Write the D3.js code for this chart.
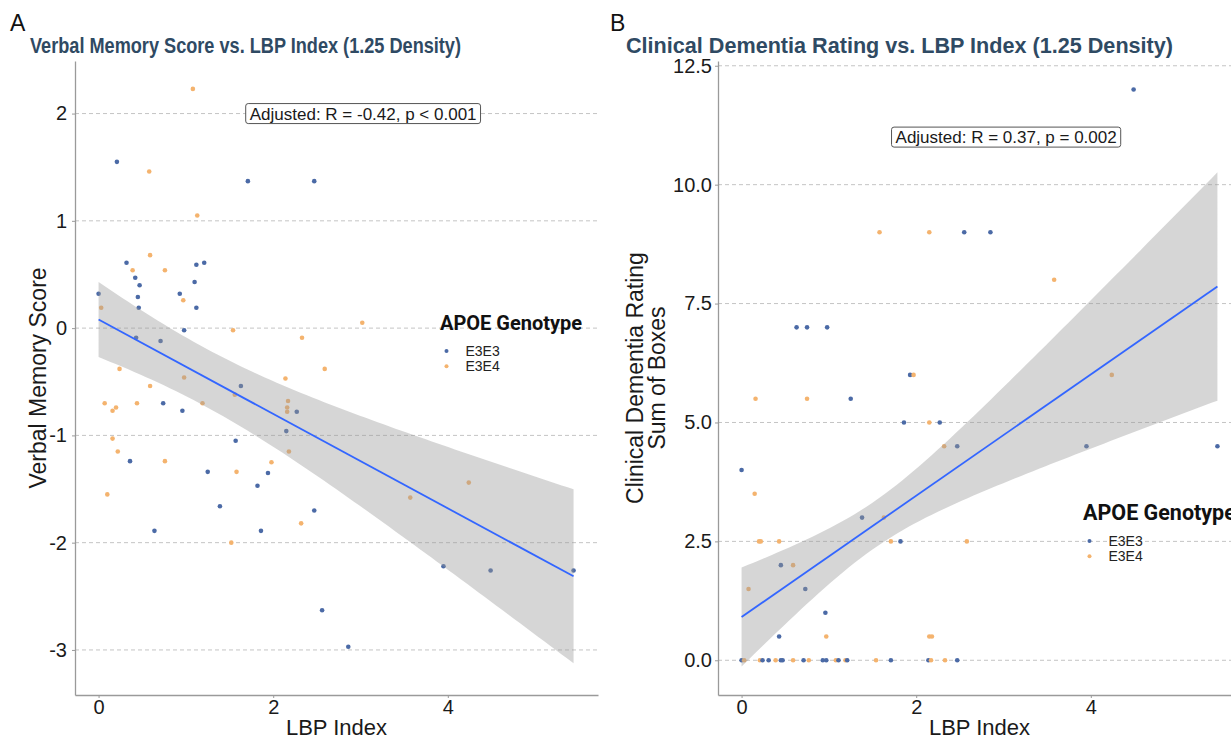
<!DOCTYPE html>
<html>
<head>
<meta charset="utf-8">
<script src="https://cdn.jsdelivr.net/npm/d3@7"></script>
<style>
  body { margin: 0; background: #fff; }
  svg text { font-family: "Liberation Sans", Arial, sans-serif; }
</style>
</head>
<body>
<svg id="chart" width="1231" height="740"></svg>
<script>
// genotype legend
var genotypes = ["E3E3", "E3E4"];
var genoColors = ["#4b6aa6", "#f4b36e"];

var xTicks = [0, 2, 4];

// panel A: verbal memory score
var vmX = [1.08, 0.21, 0.58, 1.71, 2.47, 1.13, 0.59, 0.32, 0.39, 0.76, 1.12, 1.21, 0.42, 0.47, 1.10, 0.00, 0.45, 0.93,
           0.03, 0.46, 0.97, 1.12, 0.98, 1.54, 0.43, 0.71, 2.33, 0.24, 0.98, 2.59, 2.14, 0.59, 1.63, 1.56, 2.17, 2.16,
           2.16, 2.27, 0.07, 0.16, 0.20, 0.44, 0.74, 0.96, 1.19, 2.15, 0.16, 1.57, 0.22, 2.18, 0.36, 0.76, 1.25, 1.58,
           1.98, 1.94, 1.82, 0.10, 1.39, 2.47, 2.32, 0.64, 1.86, 1.52, 2.56, 4.24, 3.57, 3.95, 4.49, 5.44, 2.86, 3.02];
var vmY = [2.23, 1.55, 1.46, 1.37, 1.37, 1.05, 0.68, 0.61, 0.54, 0.54, 0.59, 0.61, 0.47, 0.40, 0.43, 0.32, 0.29, 0.32,
           0.19, 0.19, 0.26, 0.19, -0.02, -0.02, -0.09, -0.12, -0.09, -0.38, -0.46, -0.38, -0.47, -0.54, -0.54, -0.62, -0.68, -0.74,
           -0.78, -0.78, -0.70, -0.77, -0.74, -0.70, -0.70, -0.77, -0.70, -0.96, -1.03, -1.05, -1.15, -1.15, -1.24, -1.24, -1.34, -1.34,
           -1.25, -1.35, -1.47, -1.55, -1.66, -1.70, -1.82, -1.89, -1.89, -2.00, -2.63, -1.44, -1.58, -2.22, -2.26, -2.26, -2.97, 0.05];
var vmGeno = ["E3E4", "E3E3", "E3E4", "E3E3", "E3E3", "E3E4", "E3E4", "E3E3", "E3E4", "E3E4", "E3E3", "E3E3", "E3E3", "E3E3", "E3E3", "E3E3", "E3E3", "E3E3",
              "E3E4", "E3E3", "E3E4", "E3E3", "E3E3", "E3E4", "E3E3", "E3E3", "E3E4", "E3E4", "E3E4", "E3E4", "E3E4", "E3E4", "E3E3", "E3E4", "E3E4", "E3E4",
              "E3E4", "E3E3", "E3E4", "E3E4", "E3E4", "E3E4", "E3E3", "E3E3", "E3E4", "E3E3", "E3E4", "E3E3", "E3E4", "E3E4", "E3E3", "E3E4", "E3E3", "E3E4",
              "E3E4", "E3E3", "E3E3", "E3E4", "E3E3", "E3E3", "E3E4", "E3E3", "E3E3", "E3E4", "E3E3", "E3E4", "E3E4", "E3E3", "E3E3", "E3E3", "E3E3", "E3E4"];
var vmTicksY = [-3, -2, -1, 0, 1, 2];
// smoother: line b0 + b1*x, band half width sqrt(u + k*(x - xm)^2)
var vmFit = {b0: 0.08, b1: -0.44, xm: 1.22, u: 0.0736, k: 0.0328, x0: 0, x1: 5.44};

// panel B: clinical dementia rating
var cdrX = [4.49, 1.58, 2.15, 2.55, 2.85, 3.58, 0.63, 0.75, 0.98, 1.93, 1.97, 4.24, 0.16, 0.75, 1.25, 1.86, 2.15, 2.27,
            2.32, 2.47, 3.95, 5.45, 0.00, 0.15, 1.38, 1.63, 0.20, 0.22, 0.43, 1.71, 1.82, 2.58, 0.45, 0.59, 0.08, 0.73,
            0.96, 0.43, 0.97, 2.15, 2.18, 0.00, 0.03, 0.21, 0.24, 0.31, 0.39, 0.45, 0.47, 0.59, 0.71, 0.77, 0.93, 0.97,
            1.08, 1.11, 1.19, 1.21, 1.54, 1.71, 2.14, 2.17, 2.33, 2.47];
var cdrY = [12.0, 9.0, 9.0, 9.0, 9.0, 8.0, 7.0, 7.0, 7.0, 6.0, 6.0, 6.0, 5.5, 5.5, 5.5, 5.0, 5.0, 5.0,
            4.5, 4.5, 4.5, 4.5, 4.0, 3.5, 3.0, 3.0, 2.5, 2.5, 2.5, 2.5, 2.5, 2.5, 2.0, 2.0, 1.5, 1.5,
            1.0, 0.5, 0.5, 0.5, 0.5, 0, 0, 0, 0, 0, 0, 0, 0, 0, 0, 0, 0, 0,
            0, 0, 0, 0, 0, 0, 0, 0, 0, 0];
var cdrGeno = ["E3E3", "E3E4", "E3E4", "E3E3", "E3E3", "E3E4", "E3E3", "E3E3", "E3E3", "E3E3", "E3E4", "E3E4", "E3E4", "E3E4", "E3E3", "E3E3", "E3E4", "E3E3",
               "E3E4", "E3E3", "E3E3", "E3E3", "E3E3", "E3E4", "E3E3", "E3E4", "E3E4", "E3E4", "E3E4", "E3E4", "E3E3", "E3E4", "E3E3", "E3E4", "E3E4", "E3E3",
               "E3E3", "E3E3", "E3E4", "E3E4", "E3E4", "E3E3", "E3E4", "E3E4", "E3E3", "E3E3", "E3E4", "E3E3", "E3E3", "E3E4", "E3E3", "E3E4", "E3E3", "E3E3",
               "E3E4", "E3E3", "E3E4", "E3E3", "E3E4", "E3E3", "E3E3", "E3E4", "E3E4", "E3E3"];
var cdrTicksY = [0, 2.5, 5, 7.5, 10, 12.5];
var cdrFit = {b0: 0.91, b1: 1.275, xm: 1.53, u: 0.242, k: 0.359, x0: 0, x1: 5.45};

var svg = d3.select("#chart");
var color = d3.scaleOrdinal().domain(genotypes).range(genoColors);

var fmtInt = function(d) { return String(d); };
var fmt1 = function(d) { return d.toFixed(1); };

function drawPanel(p) {
    var x = d3.scaleLinear().domain([-0.27, 5.72]).range([p.left, p.right]),
        y = d3.scaleLinear().domain(p.yDomain).range([695, 61]);

    var g = svg.append("g");

    // dashed horizontal grid
    g.selectAll(".grid").data(p.yTicks).enter().append("line")
        .attr("x1", p.left).attr("x2", p.right)
        .attr("y1", function(d) { return y(d); })
        .attr("y2", function(d) { return y(d); })
        .attr("stroke", "#c4c4c4")
        .attr("stroke-dasharray", "4,3");

    var pts = p.xs.map(function(v, i) { return {x: v, y: p.ys[i], geno: p.geno[i]}; });
    g.selectAll(".pt").data(pts).enter().append("circle")
        .attr("cx", function(d) { return x(d.x); })
        .attr("cy", function(d) { return y(d.y); })
        .attr("r", 2.3)
        .attr("fill", function(d) { return color(d.geno); });

    // smoother band + line
    var f = p.fit;
    function fy(v) { return f.b0 + f.b1 * v; }
    function hw(v) { return Math.sqrt(f.u + f.k * (v - f.xm) * (v - f.xm)); }
    var band = d3.range(0, 81).map(function(i) { return f.x0 + (f.x1 - f.x0) * i / 80; });
    g.append("path").datum(band)
        .attr("d", d3.area()
            .x(function(d) { return x(d); })
            .y0(function(d) { return y(fy(d) - hw(d)); })
            .y1(function(d) { return y(fy(d) + hw(d)); }))
        .attr("fill", "#999")
        .attr("fill-opacity", 0.4);
    g.append("line")
        .attr("x1", x(f.x0)).attr("y1", y(fy(f.x0)))
        .attr("x2", x(f.x1)).attr("y2", y(fy(f.x1)))
        .attr("stroke", "#3366ff")
        .attr("stroke-width", 1.8);

    // axes
    var ya = g.append("g").attr("transform", "translate(" + p.left + ",0)")
        .call(d3.axisLeft(y).tickValues(p.yTicks).tickFormat(p.fmt).tickSize(3).tickSizeOuter(0).tickPadding(p.yPad));
    var xa = g.append("g").attr("transform", "translate(0,695)")
        .call(d3.axisBottom(x).tickValues(xTicks).tickFormat(fmtInt).tickSize(3).tickSizeOuter(0).tickPadding(2));
    [ya, xa].forEach(function(a) {
        a.select(".domain").attr("stroke", "#9a9a9a").attr("stroke-width", 1.3);
        a.selectAll(".tick line").attr("stroke", "#9a9a9a");
        a.selectAll(".tick text").attr("fill", "#1a1a1a")
            .style("font-family", "Liberation Sans, Arial, sans-serif").style("font-size", "20px");
    });

    g.append("text")
        .attr("x", (p.left + p.right) / 2).attr("y", 735)
        .attr("text-anchor", "middle")
        .style("font-size", "22px").attr("fill", "#1a1a1a")
        .text("LBP Index");

    var yt = g.append("text")
        .attr("transform", "translate(" + p.yTitleX + ",378) rotate(-90)")
        .attr("text-anchor", "middle")
        .style("font-size", "23px").attr("fill", "#1a1a1a");
    p.yTitle.forEach(function(line, i) {
        yt.append("tspan").attr("x", 0).attr("dy", i ? 22 : 0).text(line);
    });

    // correlation label
    var lab = g.append("g").attr("transform", "translate(" + x(p.ann[0]) + "," + y(p.ann[1]) + ")");
    var lt = lab.append("text")
        .attr("text-anchor", "middle").attr("dy", "0.36em")
        .style("font-size", "17px").attr("fill", "#1a1a1a")
        .text(p.annText);
    var w = lt.node().getComputedTextLength() + 8;
    lab.insert("rect", "text")
        .attr("x", -w / 2).attr("y", -10).attr("width", w).attr("height", 20)
        .attr("rx", 2.5)
        .attr("fill", "#fff").attr("stroke", "#555").attr("stroke-width", 1);

    // titles
    svg.append("text")
        .attr("x", p.tag[1]).attr("y", 31)
        .style("font-size", "23px").attr("fill", "#111")
        .text(p.tag[0]);
    svg.append("text")
        .attr("x", p.titleX).attr("y", 53)
        .attr("textLength", p.titleW).attr("lengthAdjust", "spacingAndGlyphs")
        .style("font-size", "22px").style("font-weight", "bold")
        .attr("fill", "#2f4a63")
        .text(p.title);

    // legend
    var lg = svg.append("g").attr("transform", "translate(" + p.legend[0] + "," + p.legend[1] + ")");
    lg.append("text")
        .style("font-family", "Roboto, sans-serif").style("font-weight", "bold").style("font-size", p.legendSize + "px")
        .attr("fill", "#111")
        .text("APOE Genotype");
    genotypes.forEach(function(gt, i) {
        lg.append("circle").attr("cx", 6.5).attr("cy", 21 + i * 15.3).attr("r", 2).attr("fill", color(gt));
        lg.append("text").attr("x", 25.5).attr("y", 21 + i * 15.3).attr("dy", "0.36em")
            .style("font-size", "14px").attr("fill", "#222")
            .text(gt);
    });
}

drawPanel({
    left: 75, right: 598, yDomain: [-3.42, 2.49], yTicks: vmTicksY, fmt: fmtInt, yPad: 5,
    xs: vmX, ys: vmY, geno: vmGeno, fit: vmFit,
    yTitle: ["Verbal Memory Score"], yTitleX: 46,
    ann: [3.03, 2.0], annText: "Adjusted: R = -0.42, p < 0.001",
    tag: ["A", 10], title: "Verbal Memory Score vs. LBP Index (1.25 Density)", titleX: 30, titleW: 431,
    legend: [440, 330], legendSize: 20
});

drawPanel({
    left: 718, right: 1241, yDomain: [-0.73, 12.6], yTicks: cdrTicksY, fmt: fmt1, yPad: 3,
    xs: cdrX, ys: cdrY, geno: cdrGeno, fit: cdrFit,
    yTitle: ["Clinical Dementia Rating", "Sum of Boxes"], yTitleX: 643,
    ann: [3.03, 11.0], annText: "Adjusted: R = 0.37, p = 0.002",
    tag: ["B", 610], title: "Clinical Dementia Rating vs. LBP Index (1.25 Density)", titleX: 626, titleW: 547,
    legend: [1083, 520], legendSize: 21.5
});
</script>
</body>
</html>
